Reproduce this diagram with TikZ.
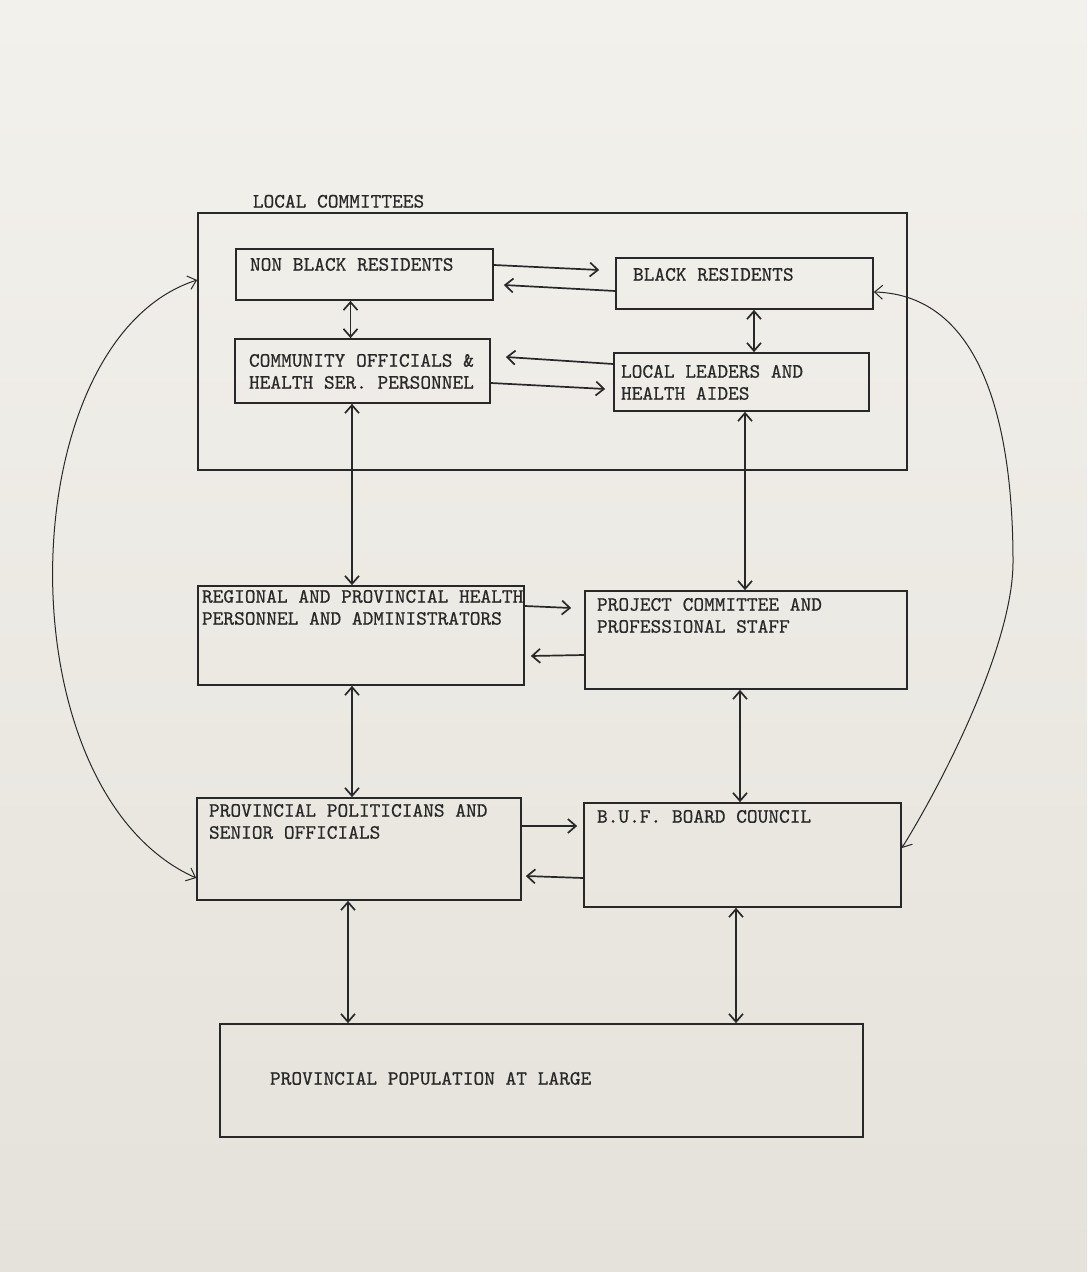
\documentclass[tikz,border=0pt]{standalone}
\usepackage{fontspec}
\newfontfamily\typewriter[FakeBold=0.6]{Latin Modern Mono}
\usetikzlibrary{arrows.meta}
\definecolor{ink}{RGB}{40,40,40}
\definecolor{papertop}{RGB}{243,241,236}
\definecolor{paperbottom}{RGB}{229,226,219}
\begin{document}
\begin{tikzpicture}[x=0.5pt, y=-0.5pt, line width=0.85pt, color=ink,
    >={Straight Barb[length=4pt,width=7pt]},
    frame/.style={draw=ink, rectangle, inner sep=0pt},
    boxtext/.style={anchor=north west, inner sep=0pt, align=left, text=ink,
        font=\fontsize{10.2}{11}\selectfont\typewriter}]
    \fill[top color=papertop, bottom color=paperbottom] (0,0) rectangle (1087,1272);
    \useasboundingbox (0,0) rectangle (1087,1272);
    % boxes
    \node[frame, minimum width=354.5pt, minimum height=128.5pt] (local) at (552.5,341.5) {};
    \node[boxtext] (local-title) at (252,194) {LOCAL COMMITTEES};
    \node[frame, minimum width=128.5pt, minimum height=25.5pt] (nbr) at (364.5,274.5) {};
    \node[boxtext] (nbr-text) at ([shift={(7pt,-4.5pt)}]nbr.north west) {NON BLACK RESIDENTS};
    \node[frame, minimum width=128.5pt, minimum height=25.5pt] (br) at (744.5,283.5) {};
    \node[boxtext] (br-text) at ([shift={(8.5pt,-5pt)}]br.north west) {BLACK RESIDENTS};
    \node[frame, minimum width=127.5pt, minimum height=32pt] (comm) at (362.5,371) {};
    \node[boxtext] (comm-text) at ([shift={(7pt,-7.5pt)}]comm.north west) {COMMUNITY OFFICIALS \&\\HEALTH SER. PERSONNEL};
    \node[frame, minimum width=127.5pt, minimum height=29pt] (ll) at (741.5,382) {};
    \node[boxtext] (ll-text) at ([shift={(3.5pt,-6pt)}]ll.north west) {LOCAL LEADERS AND\\HEALTH AIDES};
    \node[frame, minimum width=163pt, minimum height=49.5pt] (reg) at (361,635.5) {};
    \node[boxtext] (reg-text) at ([shift={(2pt,-2pt)}]reg.north west) {REGIONAL AND PROVINCIAL HEALTH\\PERSONNEL AND ADMINISTRATORS};
    \node[frame, minimum width=161pt, minimum height=49pt] (proj) at (746,640) {};
    \node[boxtext] (proj-text) at ([shift={(6pt,-3.5pt)}]proj.north west) {PROJECT COMMITTEE AND\\PROFESSIONAL STAFF};
    \node[frame, minimum width=162pt, minimum height=51pt] (pol) at (359,849) {};
    \node[boxtext] (pol-text) at ([shift={(6pt,-3pt)}]pol.north west) {PROVINCIAL POLITICIANS AND\\SENIOR OFFICIALS};
    \node[frame, minimum width=158.5pt, minimum height=52pt] (buf) at (742.5,855) {};
    \node[boxtext] (buf-text) at ([shift={(6.5pt,-3.5pt)}]buf.north west) {B.U.F. BOARD COUNCIL};
    \node[frame, minimum width=321.5pt, minimum height=56.5pt] (pop) at (541.5,1080.5) {};
    \node[boxtext] (pop-text) at ([shift={(25pt,-24pt)}]pop.north west) {PROVINCIAL POPULATION AT LARGE};
    % links inside the local committees
    \draw[->] ([yshift=4.75pt]nbr.east) -- ([xshift=-8pt,yshift=6.75pt]br.west);
    \draw[->] ([yshift=-3.75pt]br.west) -- ([xshift=5pt,yshift=-5.25pt]nbr.east);
    \draw[<->] ([xshift=-7pt]nbr.south) -- ([xshift=-6pt]comm.north);
    \draw[<->] ([xshift=4.75pt]br.south) -- ([xshift=6.25pt]ll.north);
    \draw[->] ([yshift=9pt]ll.west) -- ([xshift=7.5pt,yshift=7pt]comm.east);
    \draw[->] ([yshift=-6pt]comm.east) -- ([xshift=-4pt,yshift=-3.5pt]ll.west);
    % links down the chart
    \draw[<->] ([xshift=-5.25pt]comm.south) -- ([xshift=-4.5pt]reg.north);
    \draw[<->] ([xshift=1.75pt]ll.south) -- ([xshift=-0.5pt]proj.north);
    \draw[->] ([yshift=14.75pt]reg.east) -- ([xshift=-6.5pt,yshift=16pt]proj.west);
    \draw[->] ([yshift=-7.5pt]proj.west) -- ([xshift=3pt,yshift=-10.25pt]reg.east);
    \draw[<->] ([xshift=-4.5pt]reg.south) -- ([xshift=-3.5pt]pol.north);
    \draw[<->] ([xshift=-3pt]proj.south) -- ([xshift=-1.25pt]buf.north);
    \draw[->] ([yshift=11.5pt]pol.east) -- ([xshift=-3pt,yshift=14.5pt]buf.west);
    \draw[->] ([yshift=-11.5pt]buf.west) -- ([xshift=2pt,yshift=-13.5pt]pol.east);
    \draw[<->] ([xshift=-5.5pt]pol.south) -- ([xshift=-96.75pt]pop.north);
    \draw[<->] ([xshift=-3.25pt]buf.south) -- ([xshift=97.25pt]pop.north);
    % outer loops
    \draw[<->, line width=0.5pt] ([yshift=30.75pt]local.west) .. controls (10,340) and (0,790) .. ([yshift=-14.5pt]pol.west);
    \coordinate (right-bend) at (1013,562);
    \draw[<->, line width=0.5pt] ([yshift=-4.25pt]br.east) .. controls (980,295) and (1013,420) .. (right-bend)
        .. controls (1013,640) and (950,770) .. ([yshift=3.5pt]buf.east);
\end{tikzpicture}
\end{document}
